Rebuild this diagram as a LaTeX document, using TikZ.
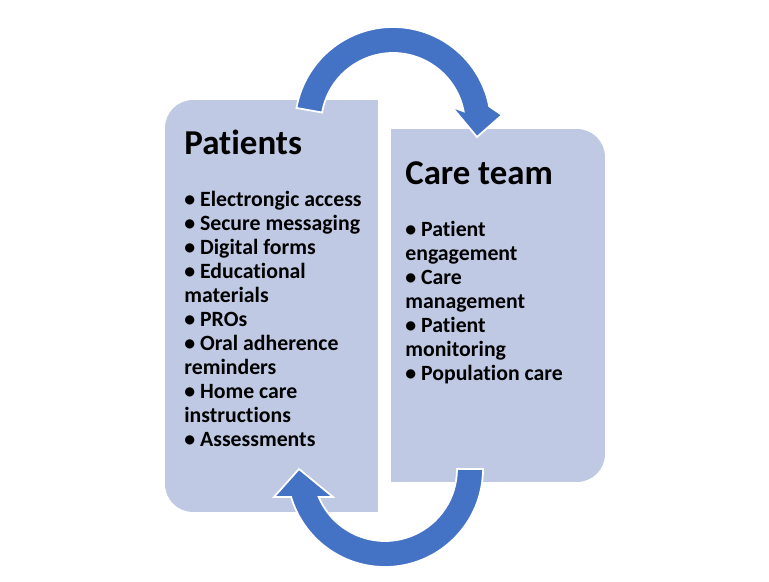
\documentclass[tikz,border=0pt]{standalone}
\usepackage{fontspec}
\setmainfont{Carlito}[Ligatures=NoCommon]
\usetikzlibrary{positioning, calc}
\definecolor{boxblue}{RGB}{191,201,227}
\definecolor{arrowblue}{RGB}{68,114,196}

\begin{document}
\begin{tikzpicture}[
    x=0.02cm, y=0.02cm,
    % Panel and text styles
    panel/.style={fill=boxblue, rounded corners=0.56cm, minimum width=4.26cm, minimum height=8.24cm, inner sep=0pt},
    heading/.style={font=\fontsize{19.9}{23}\selectfont\bfseries, anchor=base west, inner sep=0pt},
    item/.style={font=\fontsize{12.4}{15}\selectfont\bfseries, anchor=base west, inner sep=0pt},
    % Arrow style
    cycle_arrow/.style={fill=arrowblue, draw=white, line width=1pt}
]
    \useasboundingbox (0,0) rectangle (769,582);

    % ==================== Panels ====================
    \node (patients) [panel] at (271.5,276) {};
    \fill [boxblue] (patients.north) rectangle (patients.south east);

    \node (careteam) [panel, minimum width=4.28cm, minimum height=7.06cm] at (498,276.5) {};
    \fill [boxblue] (careteam.north west) rectangle (careteam.south);

    % ==================== Texts (LEFT) ====================
    \node (pat_title) [heading] at (184,427) {Patients};
    \foreach \txt [count=\k from 0] in {• Electrongic access, • Secure messaging, • Digital forms, • Educational, materials, • PROs, • Oral adherence, reminders, • Home care, instructions, • Assessments}
        \node (pat_item\k) [item] at (184,375-24*\k) {\txt};

    % ==================== Texts (RIGHT) ====================
    \node (care_title) [heading, font=\fontsize{19.8}{23}\selectfont\bfseries] at (405,397) {Care team};
    \foreach \txt [count=\k from 0] in {• Patient, engagement, • Care, management, • Patient, monitoring, • Population care}
        \node (care_item\k) [item] at (405,345-24*\k) {\txt};

    % ==================== Cycle arrows ====================
    \coordinate (top_c) at (393,457);
    \coordinate (bot_c) at (385,113);

    % Top: from Patients over to Care team
    \path [cycle_arrow] ($(top_c)+(170:98)$) arc [start angle=170, end angle=11, radius=98]
        -- (502,467) -- (477,445) -- (452,475)
        -- ($(top_c)+(11:72)$) arc [start angle=11, end angle=170, radius=72] -- cycle;

    % Bottom: from Care team back to Patients
    \path [cycle_arrow] ($(bot_c)+(0:98)$) arc [start angle=0, end angle=-163.4, radius=98]
        -- (274,85) -- (299,113) -- (333,85)
        -- ($(bot_c)+(-157.1:72)$) arc [start angle=-157.1, end angle=0, radius=72] -- cycle;

\end{tikzpicture}
\end{document}
